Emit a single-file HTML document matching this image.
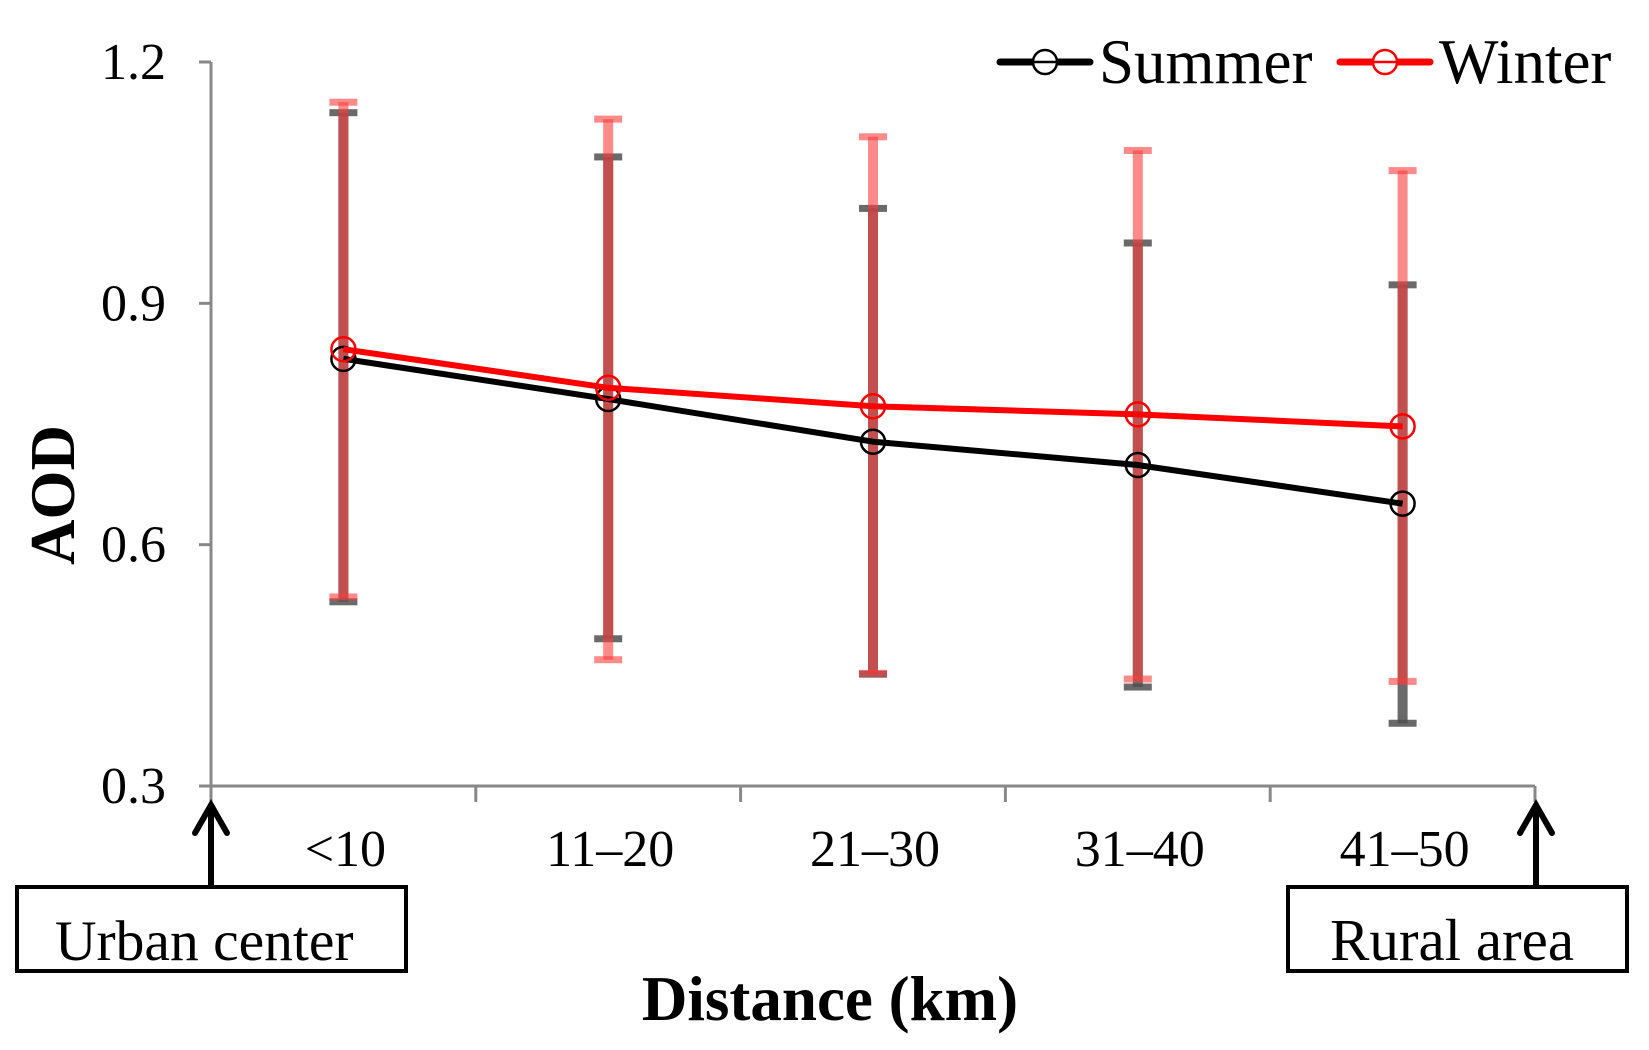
<!DOCTYPE html>
<html><head><meta charset="utf-8"><style>
html,body{margin:0;padding:0;background:#fff}
svg text{font-family:"Liberation Serif",serif}
</style></head><body>
<svg id="chart" width="1649" height="1045" viewBox="0 0 1649 1045" xmlns="http://www.w3.org/2000/svg">
<g id="errs"></g><g id="lines"></g><g id="axes"></g>
</svg>
<script>
const categories = ["<10","11-20","21-30","31-40","41-50"];
const summer = [0.831,0.781,0.728,0.699,0.651];
const winter = [0.843,0.795,0.772,0.762,0.747];
const summerHi = [1.137,1.082,1.018,0.975,0.923];
const summerLo = [0.529,0.483,0.439,0.423,0.378];
const winterHi = [1.150,1.129,1.107,1.090,1.065];
const winterLo = [0.535,0.457,0.440,0.433,0.430];
const yTicks = [0.3,0.6,0.9,1.2];
const yTickLabels = ["0.3","0.6","0.9","1.2"];

const NS="http://www.w3.org/2000/svg";
const X0=211,X1=1535,Y0=786,Y1=62,YMIN=0.3,YMAX=1.2;
const band=(X1-X0)/categories.length;
const xs=i=>X0+band*(i+0.5);
const ys=v=>Y0-(v-YMIN)/(YMAX-YMIN)*(Y0-Y1);
function mk(tag,attrs,parent){const e=document.createElementNS(NS,tag);for(const k in attrs)e.setAttribute(k,attrs[k]);parent.appendChild(e);return e;}
const errs=document.getElementById('errs'),lines=document.getElementById('lines'),axes=document.getElementById('axes');

function errBars(hi,lo,color,name){
  hi.forEach((h,i)=>{
    const x=xs(i);
    const g=mk('g',{},errs);
    
    
    mk('rect',{x:x-5,y:ys(h),width:10,height:ys(lo[i])-ys(h),fill:color},g);
    mk('rect',{x:x-14,y:ys(h)-3.5,width:28,height:7,fill:color},g);
    mk('rect',{x:x-14,y:ys(lo[i])-3.5,width:28,height:7,fill:color},g);
  });
}
errBars(summerHi,summerLo,'rgba(80,80,80,0.85)','summer');
errBars(winterHi,winterLo,'rgba(255,60,60,0.6)','winter');

function series(vals,color,name){
  const p=mk('polyline',{points:vals.map((v,i)=>xs(i)+','+ys(v)).join(' '),fill:'none',stroke:color,'stroke-width':6},lines);
  
  
  vals.forEach((v,i)=>{
    const c=mk('circle',{cx:xs(i),cy:ys(v),r:12,fill:'none',stroke:color,'stroke-width':2.5},lines);
    
    
  });
}
series(summer,'#000','summer');
series(winter,'#ff0000','winter');

const ya=mk('line',{x1:X0,y1:Y1,x2:X0,y2:Y0,stroke:'#888','stroke-width':3},axes);

const xa=mk('line',{x1:X0,y1:Y0,x2:X1,y2:Y0,stroke:'#888','stroke-width':3},axes);

yTicks.forEach((t,i)=>{
  mk('line',{x1:X0-12,y1:ys(t),x2:X0,y2:ys(t),stroke:'#888','stroke-width':3},axes);
  const tx=mk('text',{x:166,y:ys(t)+17,'text-anchor':'end','font-size':52},axes);
  tx.textContent=yTickLabels[i];
  
  
});
for(let i=0;i<=categories.length;i++){
  mk('line',{x1:X0+band*i,y1:Y0,x2:X0+band*i,y2:Y0+16,stroke:'#888','stroke-width':3},axes);
}
categories.forEach((c,i)=>{
  const tx=mk('text',{x:xs(i)+2,y:866,'text-anchor':'middle','font-size':52},axes);
  tx.textContent=c.replace('-','\u2013');
  
  
});
</script>
<svg style="position:absolute;left:0;top:0" width="1649" height="1045" xmlns="http://www.w3.org/2000/svg">
<text x="0" y="0" transform="translate(74,495) rotate(-90)" text-anchor="middle" font-size="63" font-weight="bold" font-family="Liberation Serif,serif">AOD</text>
<text x="830" y="1020" text-anchor="middle" font-size="63" font-weight="bold" font-family="Liberation Serif,serif">Distance (km)</text>
<g>
<line x1="211" y1="886" x2="211" y2="805" stroke="#000" stroke-width="6"/>
<polyline points="195,833 211,805 227,833" fill="none" stroke="#000" stroke-width="6" stroke-linecap="round"/>
<rect x="17" y="887" width="389" height="84" fill="none" stroke="#000" stroke-width="4"/>
<text x="55" y="960" font-size="57.5" font-family="Liberation Serif,serif">Urban center</text>
</g>
<g>
<line x1="1536" y1="886" x2="1536" y2="805" stroke="#000" stroke-width="6"/>
<polyline points="1520,833 1536,805 1552,833" fill="none" stroke="#000" stroke-width="6" stroke-linecap="round"/>
<rect x="1288" y="887" width="339" height="84" fill="none" stroke="#000" stroke-width="4"/>
<text x="1330" y="960" font-size="59" font-family="Liberation Serif,serif">Rural area</text>
</g>
<g>
<g>
<line x1="1000" y1="62" x2="1090" y2="62" stroke="#000" stroke-width="7" stroke-linecap="round"/>
<circle cx="1045" cy="62" r="12" fill="#fff" stroke="#000" stroke-width="2.5"/>
<line x1="1033" y1="62" x2="1057" y2="62" stroke="#000" stroke-width="2.5"/>
<text x="1099" y="83" font-size="63" font-family="Liberation Serif,serif">Summer</text>
</g>
<g>
<line x1="1340" y1="62" x2="1430" y2="62" stroke="#f00" stroke-width="7" stroke-linecap="round"/>
<circle cx="1385" cy="62" r="12" fill="#fff" stroke="#f00" stroke-width="2.5"/>
<line x1="1373" y1="62" x2="1397" y2="62" stroke="#f00" stroke-width="2.5"/>
<text x="1439" y="83" font-size="63" font-family="Liberation Serif,serif">Winter</text>
</g>
</g>
</svg>
</body></html>
